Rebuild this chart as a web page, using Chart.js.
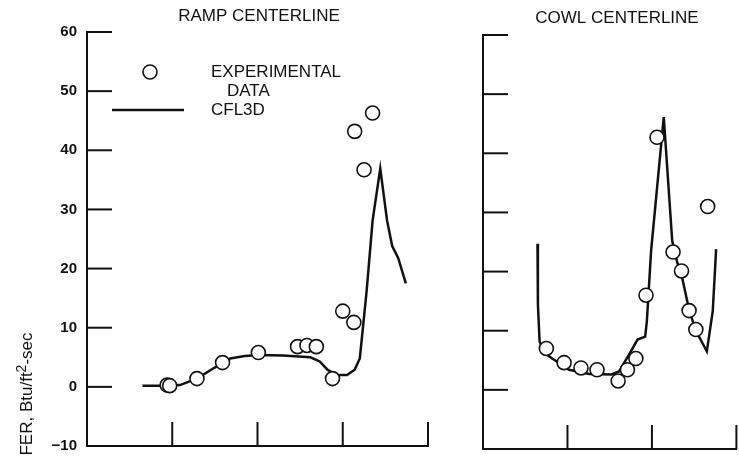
<!DOCTYPE html>
<html>
<head>
<meta charset="utf-8">
<script src="https://cdn.jsdelivr.net/npm/chart.js@4.4.1/dist/chart.umd.min.js"></script>
<style>
  html, body { margin: 0; padding: 0; background: #fff; }
  #wrap { position: relative; width: 739px; height: 458px; overflow: hidden; }
  .panel { position: absolute; top: 0; height: 458px; }
  #rampBox { left: 0; width: 440px; }
  #cowlBox { left: 440px; width: 305px; }
</style>
</head>
<body>
<div id="wrap">
  <div class="panel" id="rampBox"><canvas id="rampChart"></canvas></div>
  <div class="panel" id="cowlBox"><canvas id="cowlChart"></canvas></div>
</div>
<script>
// ramp centerline
const rampExpX = [0.94, 0.97, 1.29, 1.59, 2.01, 2.47, 2.58, 2.69, 2.88, 3.0, 3.13, 3.25, 3.14, 3.35];
const rampExpY = [0.3, 0.2, 1.4, 4.1, 5.8, 6.8, 7.0, 6.8, 1.4, 12.8, 10.9, 36.7, 43.2, 46.3];
const rampCfdX = [0.65, 0.94, 1.09, 1.29, 1.48, 1.68, 1.85, 2.01, 2.3, 2.62, 2.73, 2.82, 2.93, 3.05, 3.14, 3.2, 3.24, 3.28, 3.35, 3.44, 3.52, 3.58, 3.65, 3.74];
const rampCfdY = [0.2, 0.2, 0.3, 1.4, 3.1, 4.8, 5.2, 5.4, 5.3, 5.0, 4.3, 2.9, 2.0, 2.0, 2.9, 4.8, 10.5, 16.2, 28.1, 36.9, 28.1, 23.8, 21.8, 17.5];

// cowl centerline
const cowlExpX = [0.75, 0.96, 1.16, 1.35, 1.6, 1.71, 1.81, 1.93, 2.06, 2.25, 2.35, 2.44, 2.52, 2.66];
const cowlExpY = [7.0, 4.6, 3.7, 3.4, 1.5, 3.4, 5.3, 16.0, 42.7, 23.3, 20.1, 13.4, 10.2, 31.0];
const cowlCfdX = [0.645, 0.65, 0.67, 0.72, 0.82, 1.02, 1.26, 1.52, 1.61, 1.73, 1.83, 1.92, 1.94, 1.99, 2.14, 2.24, 2.3, 2.35, 2.44, 2.52, 2.65, 2.72, 2.76];
const cowlCfdY = [24.7, 14.5, 8.2, 6.3, 5.3, 3.4, 2.7, 2.6, 3.1, 6.0, 8.5, 9.0, 11.6, 23.5, 46.1, 25.2, 21.5, 19.5, 13.5, 10.0, 6.5, 13.3, 23.8];

const yMin = -10;
const yMax = 60;
const yStep = 10;

const font = "Liberation Sans, Arial, Helvetica, sans-serif";
const ink = "#111";

const toPoints = (xs, ys) => xs.map((x, i) => ({ x, y: ys[i] }));

// short tick marks drawn inward from the axes
const innerTicks = {
  id: "innerTicks",
  afterDraw(chart) {
    const { ctx, chartArea, scales } = chart;
    ctx.save();
    ctx.strokeStyle = ink;
    ctx.lineWidth = 2;
    scales.y.ticks.forEach((t) => {
      const py = scales.y.getPixelForValue(t.value);
      ctx.beginPath();
      ctx.moveTo(chartArea.left, py);
      ctx.lineTo(chartArea.left + 25, py);
      ctx.stroke();
    });
    scales.x.ticks.forEach((t) => {
      if (t.value <= 0) return;
      const px = scales.x.getPixelForValue(t.value);
      ctx.beginPath();
      ctx.moveTo(px, chartArea.bottom);
      ctx.lineTo(px, chartArea.bottom - 24);
      ctx.stroke();
    });
    ctx.restore();
  },
};

// panel title, legend and axis label
const annotations = {
  id: "annotations",
  afterDraw(chart, args, opts) {
    const { ctx } = chart;
    ctx.save();
    ctx.fillStyle = ink;
    ctx.textBaseline = "middle";
    ctx.font = `17px ${font}`;
    ctx.textAlign = "center";
    ctx.fillText(opts.title, opts.titleX, opts.titleY);

    if (opts.legend) {
      ctx.textAlign = "left";
      ctx.fillText("EXPERIMENTAL", 211, 72);
      ctx.fillText("DATA", 227, 91.5);
      ctx.fillText("CFL3D", 211, 110.5);
      ctx.beginPath();
      ctx.arc(150, 72, 7, 0, Math.PI * 2);
      ctx.fillStyle = "#fff";
      ctx.fill();
      ctx.lineWidth = 1.6;
      ctx.strokeStyle = ink;
      ctx.stroke();
      ctx.beginPath();
      ctx.lineWidth = 2.5;
      ctx.moveTo(112, 110);
      ctx.lineTo(184, 110);
      ctx.stroke();

      // y axis label, rotated
      ctx.fillStyle = ink;
      ctx.translate(32, 394);
      ctx.rotate(-Math.PI / 2);
      ctx.textBaseline = "alphabetic";
      const a = "FER, Btu/ft";
      const b = "2";
      const c = "-sec";
      ctx.font = `17px ${font}`;
      const wa = ctx.measureText(a).width;
      const wc = ctx.measureText(c).width;
      ctx.font = `14px ${font}`;
      const wb = ctx.measureText(b).width;
      let x = -(wa + wb + wc) / 2;
      ctx.textAlign = "left";
      ctx.font = `17px ${font}`;
      ctx.fillText(a, x, 0);
      x += wa;
      ctx.font = `14px ${font}`;
      ctx.fillText(b, x, -6);
      x += wb;
      ctx.font = `17px ${font}`;
      ctx.fillText(c, x, 0);
    }
    ctx.restore();
  },
};

function makePanel(canvasId, expX, expY, cfdX, cfdY, xMax, cfg) {
  const ctx = document.getElementById(canvasId).getContext("2d");
  return new Chart(ctx, {
    type: "scatter",
    data: {
      datasets: [
        {
          label: "EXPERIMENTAL DATA",
          data: toPoints(expX, expY),
          pointRadius: 7,
          pointHoverRadius: 7,
          pointBorderWidth: 1.6,
          pointBackgroundColor: "#fff",
          pointBorderColor: ink,
          showLine: false,
        },
        {
          label: "CFL3D",
          data: toPoints(cfdX, cfdY),
          showLine: true,
          borderColor: ink,
          borderWidth: 2.5,
          pointRadius: 0,
          tension: 0,
          fill: false,
        },
      ],
    },
    options: {
      responsive: true,
      maintainAspectRatio: false,
      animation: false,
      events: [],
      layout: { padding: cfg.padding },
      plugins: {
        legend: { display: false },
        tooltip: { enabled: false },
        annotations: cfg.annotations,
      },
      scales: {
        x: {
          type: "linear",
          min: 0,
          max: xMax,
          ticks: { display: false, stepSize: 1 },
          grid: { display: false, drawTicks: false },
          border: { display: true, color: ink, width: 2 },
          afterFit: (s) => { s.height = 0; },
        },
        y: {
          type: "linear",
          min: yMin,
          max: yMax,
          ticks: {
            display: cfg.yLabels,
            stepSize: yStep,
            padding: 10,
            color: ink,
            font: { family: font, size: 15, weight: "bold" },
            callback: (v) => (v < 0 ? "\u2212" + Math.abs(v) : String(v)),
          },
          grid: { display: false, drawTicks: false },
          border: { display: true, color: ink, width: 2 },
          afterFit: (s) => {
            s.width = cfg.yWidth;
            s.paddingTop = 0;
            s.paddingBottom = 0;
          },
        },
      },
    },
    plugins: [innerTicks, annotations],
  });
}

makePanel("rampChart", rampExpX, rampExpY, rampCfdX, rampCfdY, 4, {
  padding: { left: 0, right: 12, top: 32, bottom: 12 },
  yWidth: 87,
  yLabels: true,
  annotations: { title: "RAMP CENTERLINE", titleX: 259, titleY: 16.5, legend: true },
});

makePanel("cowlChart", cowlExpX, cowlExpY, cowlCfdX, cowlCfdY, 3, {
  padding: { left: 0, right: 2, top: 35, bottom: 9 },
  yWidth: 43,
  yLabels: false,
  annotations: { title: "COWL CENTERLINE", titleX: 177, titleY: 18.5, legend: false },
});
</script>
</body>
</html>
